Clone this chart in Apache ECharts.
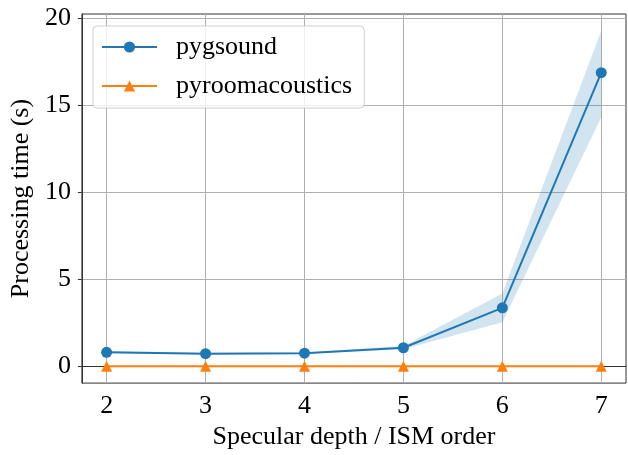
<!DOCTYPE html>
<html><head><meta charset="utf-8">
<script src="https://cdn.jsdelivr.net/npm/echarts@6/dist/echarts.min.js"></script>
<style>html,body{margin:0;padding:0;background:#fff}#c{width:628px;height:455px}</style>
</head><body><div id="c"></div>
<script>
var depth = [2, 3, 4, 5, 6, 7];
var pygsound = [0.81, 0.73, 0.76, 1.07, 3.36, 16.86];
var pygLower = [0.76, 0.68, 0.72, 0.98, 2.54, 14.3];
var pygUpper = [0.87, 0.78, 0.80, 1.17, 4.18, 19.27];
var pyroom = [0.01, 0.01, 0.01, 0.01, 0.01, 0.01];
var yTicks = [0, 5, 10, 15, 20];
var xTicks = [2, 3, 4, 5, 6, 7];

var font = 'Liberation Serif';
function pairs(ys){ return depth.map(function(x,i){return [x, ys[i]];}); }
var bandData = depth.map(function(x,i){return [x, pygLower[i], pygUpper[i]];});

var chart = echarts.init(document.getElementById('c'), null, {renderer:'canvas'});
chart.setOption({
  animation: false,
  grid: {left: 79, right: 2, top: 14, bottom: 66, show: true, borderColor: '#333', borderWidth: 1, backgroundColor: 'transparent'},
  xAxis: {
    type: 'value', min: 1.75, max: 7.25,
    name: 'Specular depth / ISM order', nameLocation: 'middle', nameGap: 39,
    nameTextStyle: {fontFamily: font, fontSize: 26, color: '#000'},
    axisLine: {show: true, lineStyle: {color: '#333', width: 1}},
    axisTick: {show: true, inside: false, length: 4, customValues: xTicks, lineStyle: {color: '#333'}},
    axisLabel: {customValues: xTicks, fontFamily: font, fontSize: 26, color: '#000', margin: 10},
    splitLine: {show: true, lineStyle: {color: '#b0b0b0', width: 1}}
  },
  yAxis: {
    type: 'value', min: -0.96, max: 20.23,
    name: 'Processing time (s)', nameLocation: 'middle', nameGap: 44,
    nameTextStyle: {fontFamily: font, fontSize: 26, color: '#000'},
    axisLine: {show: true, lineStyle: {color: '#333', width: 1}},
    axisTick: {show: true, inside: false, length: 4, customValues: yTicks, lineStyle: {color: '#333'}},
    axisLabel: {customValues: yTicks, fontFamily: font, fontSize: 26, color: '#000', margin: 11},
    splitLine: {show: true, lineStyle: {color: '#b0b0b0', width: 1}}
  },
  legend: {
    left: 93, top: 26, orient: 'vertical',
    data: [{name: 'pygsound'}, {name: 'pyroomacoustics'}],
    backgroundColor: 'rgba(255,255,255,0.8)', borderColor: '#d0d0d0', borderWidth: 1, borderRadius: 4,
    padding: [8, 12, 9, 8], itemWidth: 55, itemHeight: 14, itemGap: 13,
    textStyle: {fontFamily: font, fontSize: 26, color: '#000', lineHeight: 26, padding: [0, 0, 0, 14]}
  },
  series: [
    {name: 'band', type: 'custom', silent: true, z: 1,
     encode: {x: 0, y: [1, 2]},
     data: bandData,
     renderItem: function(params, api){
       if (params.dataIndex !== 0) return null;
       var pts = [];
       for (var i = 0; i < bandData.length; i++) pts.push(api.coord([bandData[i][0], bandData[i][2]]));
       for (var j = bandData.length - 1; j >= 0; j--) pts.push(api.coord([bandData[j][0], bandData[j][1]]));
       return {type: 'polygon', shape: {points: pts}, style: {fill: 'rgba(31,119,180,0.2)', stroke: null}};
     }},
    {name: 'pyroomacoustics', type: 'line', data: pairs(pyroom), symbol: 'triangle', symbolSize: 11,
     itemStyle: {color: '#ff7f0e'}, lineStyle: {color: '#ff7f0e', width: 2}, z: 3},
    {name: 'pygsound', type: 'line', data: pairs(pygsound), symbol: 'circle', symbolSize: 11,
     itemStyle: {color: '#1f77b4'}, lineStyle: {color: '#1f77b4', width: 2}, z: 4}
  ]
});
</script></body></html>
